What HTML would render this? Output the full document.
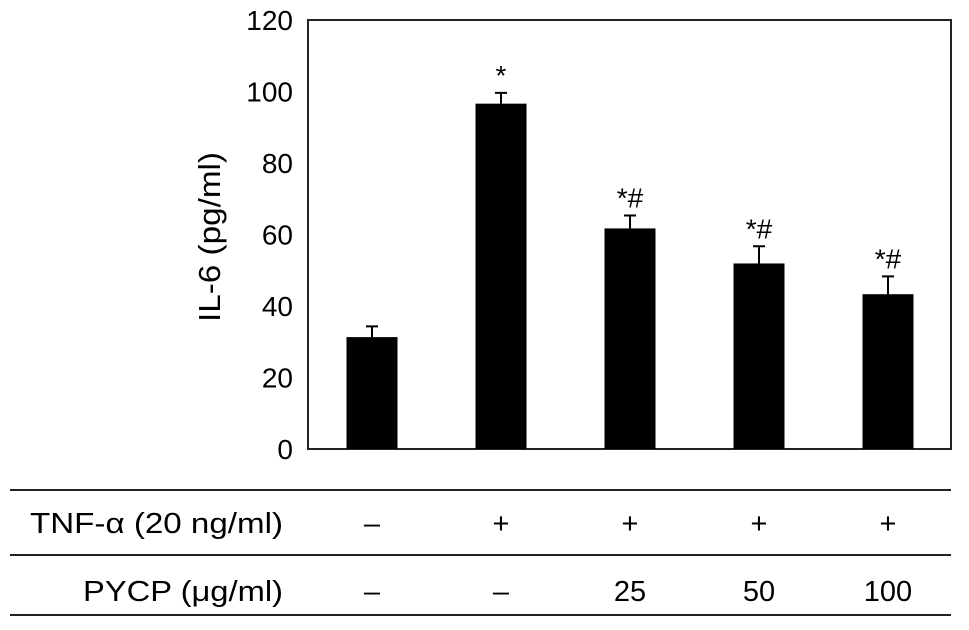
<!DOCTYPE html>
<html><head><meta charset="utf-8"><style>
html,body{margin:0;padding:0;background:#fff;}
svg{display:block;font-family:"Liberation Sans",Arial,sans-serif;}
</style></head><body>
<svg id="chart" width="969" height="630" viewBox="0 0 969 630">
<rect x="308" y="20" width="643" height="429" fill="none" stroke="#222" stroke-width="2"/>
<text transform="translate(220,237) rotate(-90)" text-anchor="middle" font-size="31" textLength="170" lengthAdjust="spacingAndGlyphs">IL-6 (pg/ml)</text>
<g id="yticks"></g><g id="bars"></g><g id="table"></g>
</svg>
<script>
const categories = ["ctrl","tnf","pycp25","pycp50","pycp100"];
const values = [31.3, 96.6, 61.7, 51.9, 43.3];
const errors = [3.0, 3.0, 3.6, 4.8, 5.0];
const marks = ["", "*", "*#", "*#", "*#"];
const yTicks = [0,20,40,60,80,100,120];
const tnfRow = ["\u2013","+","+","+","+"];
const pycpRow = ["\u2013","\u2013","25","50","100"];

const NS="http://www.w3.org/2000/svg";
const y0=449, y1=20, yMax=120;
function yScale(v){return y0-(v/yMax)*(y0-y1);}
function xCenter(i){return 372+i*129;}
const bw=51;
function mk(tag,attrs,parent,text){const e=document.createElementNS(NS,tag);for(const k in attrs)e.setAttribute(k,attrs[k]);if(text!==undefined)e.textContent=text;parent.appendChild(e);return e;}
const yt=document.getElementById('yticks');
yTicks.forEach(t=>{
  const e=mk('text',{x:293,y:yScale(t)+10,'text-anchor':'end','font-size':28},yt,String(t));
  
  
});
const bg=document.getElementById('bars');
values.forEach((v,i)=>{
  const cx=xCenter(i), top=yScale(v), et=yScale(v+errors[i]);
  const r=mk('rect',{x:cx-bw/2,y:top,width:bw,height:y0-top,fill:'#000'},bg);
  
  
  const l=mk('path',{d:`M${cx} ${top}V${et}M${cx-6} ${et}H${cx+6}`,stroke:'#000','stroke-width':2,fill:'none'},bg);
  
  
  if(marks[i]){
    const s=mk('text',{x:cx,y:et-8,'text-anchor':'middle','font-size':28},bg,marks[i]);
    
    
  }
});
const tb=document.getElementById('table');
[490,555,615].forEach(yy=>{
  const l=mk('line',{x1:10,x2:951,y1:yy,y2:yy,stroke:'#222','stroke-width':2},tb);
  
  
});
const h1=mk('text',{x:30,y:533,'font-size':29,textLength:253,lengthAdjust:'spacingAndGlyphs'},tb,"TNF-\u03b1 (20 ng/ml)");


const h2=mk('text',{x:83,y:601,'font-size':29,textLength:200,lengthAdjust:'spacingAndGlyphs'},tb,"PYCP (\u03bcg/ml)");


tnfRow.forEach((t,i)=>{
  const e=mk('text',{x:xCenter(i),y:533,'text-anchor':'middle','font-size':29},tb,t);
  
  
});
pycpRow.forEach((t,i)=>{
  const e=mk('text',{x:xCenter(i),y:601,'text-anchor':'middle','font-size':29},tb,t);
  
  
});
</script>
</body></html>
